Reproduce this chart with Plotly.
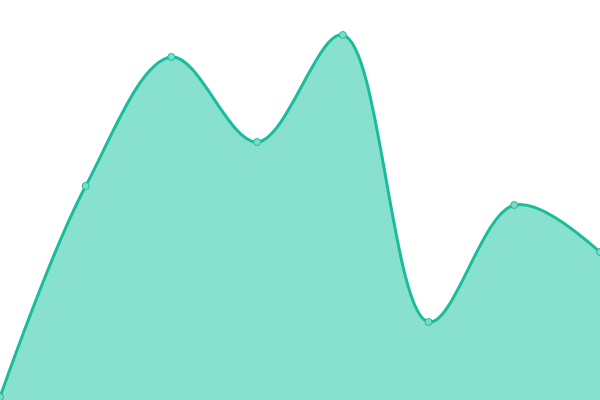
import plotly.graph_objects as go

# values (plot height = 400 units)
x_vals = [0, 1, 2, 3, 4, 5, 6, 7]
y_vals = [3, 214, 343, 258, 365, 78, 195, 148]

fig = go.Figure(go.Scatter(
    x=x_vals,
    y=y_vals,
    mode='lines+markers',
    line=dict(shape='spline', smoothing=1.0, color='#1abc9c', width=3),
    marker=dict(size=7, color='#7ddcc8', line=dict(color='#1abc9c', width=1)),
    fill='tozeroy',
    fillcolor='#88e0cf',
    cliponaxis=False,
    hoverinfo='skip',
))

fig.update_layout(
    width=600,
    height=400,
    margin=dict(l=0, r=0, t=0, b=0),
    paper_bgcolor='white',
    plot_bgcolor='white',
    showlegend=False,
    xaxis=dict(visible=False, range=[0, 7]),
    yaxis=dict(visible=False, range=[0, 400]),
)

# drop the default page margin so the chart sits at the window edge
fig.write_html("out.html", config={'displayModeBar': False},
               post_script="document.body.style.margin='0';")
